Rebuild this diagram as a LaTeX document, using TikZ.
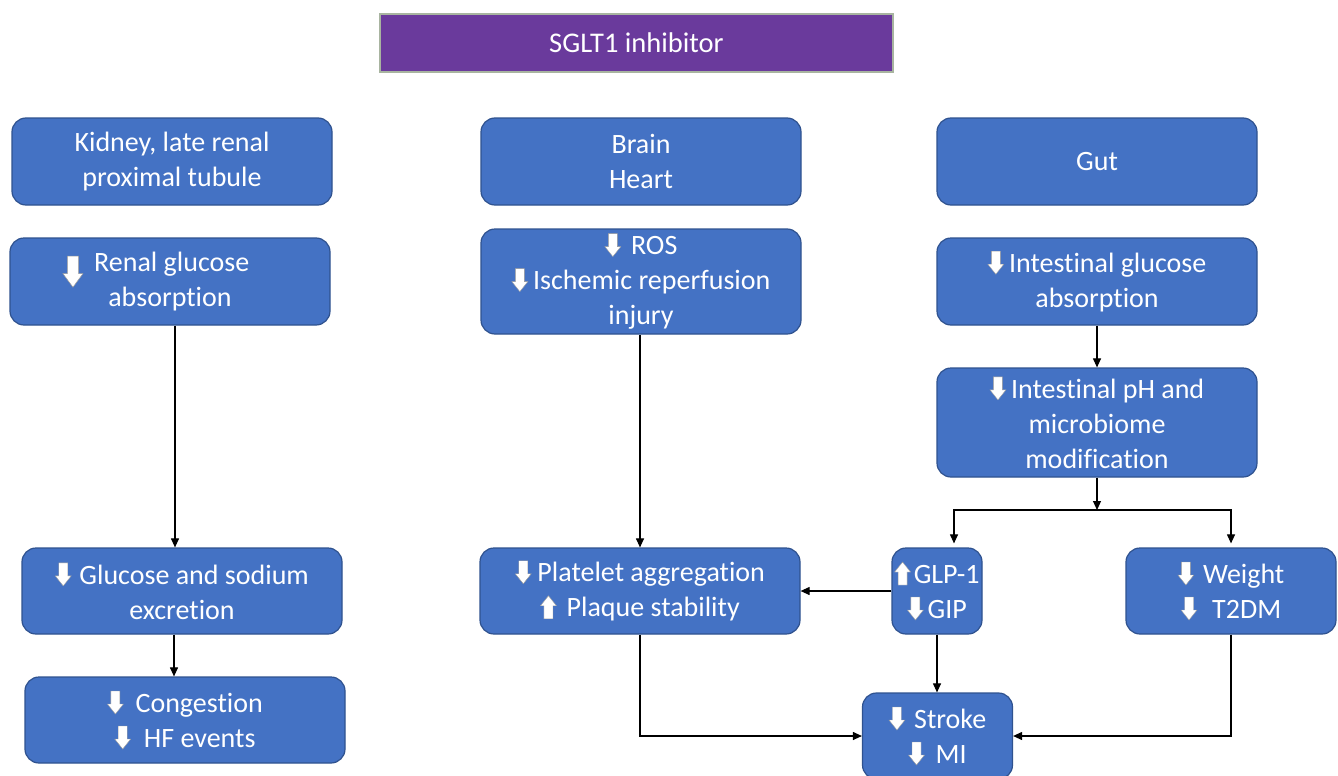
\documentclass[tikz,border=0pt]{standalone}
\usepackage{fontspec}
\setmainfont{Carlito}[Ligatures=NoCommon]
\usetikzlibrary{arrows.meta}
\definecolor{boxblue}{HTML}{4472C4}
\definecolor{boxedge}{HTML}{2F528F}
\definecolor{titlepurple}{HTML}{6A3A9C}
\definecolor{titleedge}{HTML}{A8B4A0}
\definecolor{glyphedge}{HTML}{9A9A9A}
\newsavebox\dnbox
\newsavebox\upbox
\newcommand\dnarr[1][5pt]{\raisebox{-2pt}{\usebox\dnbox}\hspace{#1}}
\newcommand\uparr[1][5pt]{\raisebox{-2pt}{\usebox\upbox}\hspace{#1}}
\newcommand\bigdnarr[1][5pt]{\smash{\raisebox{-16pt}{\scalebox{1.25}[1.35]{\usebox\dnbox}}}\hspace{#1}}
\newcommand\glyphpt[2]{\pgfpathlineto{\pgfpoint{#1pt}{#2pt}}}
\begin{document}
\sbox\dnbox{\pgfpicture
  \pgfsetlinewidth{0.4pt}\pgfsetfillcolor{white}\pgfsetstrokecolor{glyphedge}%
  \pgfpathmoveto{\pgfpoint{-4.5pt}{23pt}}\glyphpt{4.5}{23}\glyphpt{4.5}{10}\glyphpt{8}{10}%
  \glyphpt{0}{0}\glyphpt{-8}{10}\glyphpt{-4.5}{10}\pgfpathclose
  \pgfusepath{fill,stroke}\endpgfpicture}
\sbox\upbox{\pgfpicture
  \pgfsetlinewidth{0.4pt}\pgfsetfillcolor{white}\pgfsetstrokecolor{glyphedge}%
  \pgfpathmoveto{\pgfpoint{-4.5pt}{0pt}}\glyphpt{4.5}{0}\glyphpt{4.5}{13}\glyphpt{8}{13}%
  \glyphpt{0}{23}\glyphpt{-8}{13}\glyphpt{-4.5}{13}\pgfpathclose
  \pgfusepath{fill,stroke}\endpgfpicture}
\begin{tikzpicture}[x=1pt,y=-1pt,
  blk/.style={draw=boxedge, line width=1.2pt, fill=boxblue, rounded corners=14pt,
    text=white, align=center, font=\fontsize{28}{35}\selectfont, inner sep=0pt},
  ttl/.style={draw=titleedge, line width=1.2pt, fill=titlepurple, text=white,
    font=\fontsize{28.5}{35}\selectfont, inner sep=0pt},
  conn/.style={line width=1.1pt, -{Triangle[length=9pt,width=8pt]}}]
\useasboundingbox[fill=white] (0,0) rectangle (1338,776);

\node[ttl, minimum width=513pt, minimum height=58pt] (title) at (636.5,43) {SGLT1 inhibitor};

\node[blk, minimum width=320pt, minimum height=87pt] (kid) at (172,161.5) {Kidney, late renal\\proximal tubule};
\node[blk, minimum width=320pt, minimum height=87pt] (renal) at (170,281.5) {\bigdnarr[11pt]Renal glucose\hspace*{28pt}\\absorption};
\node[blk, minimum width=320pt, minimum height=86pt] (gs) at (182,591) {\dnarr[8pt]Glucose and sodium\\excretion};
\node[blk, minimum width=320pt, minimum height=86pt] (cong) at (185,720) {\dnarr[12pt]Congestion\\\dnarr[13pt]HF events};

\node[blk, minimum width=320pt, minimum height=87pt] (brain) at (641,161.5) {Brain\\Heart};
\node[blk, minimum width=320pt, minimum height=105pt] (ros) at (641,281.5) {\dnarr[10pt]ROS\\\dnarr[5pt]Ischemic reperfusion\\injury};
\node[blk, minimum width=320pt, minimum height=86pt] (plat) at (640,591) {\dnarr[6pt]Platelet aggregation\\\uparr[10pt]Plaque stability};

\node[blk, minimum width=320pt, minimum height=87pt] (gut) at (1097,161.5) {Gut};
\node[blk, minimum width=320pt, minimum height=87pt] (ig) at (1097,281.5) {\dnarr[5pt]Intestinal glucose\\absorption};
\node[blk, minimum width=320pt, minimum height=109pt] (ph) at (1097,422.5) {\dnarr[5pt]Intestinal pH and\\microbiome\\modification};
\node[blk, minimum width=90pt, minimum height=86pt] (glp) at (937,591) {\uparr[3pt]GLP-1\\\dnarr[4pt]GIP};
\node[blk, minimum width=210pt, minimum height=86pt] (wt) at (1231,591) {\dnarr[9pt]Weight\\\dnarr[15pt]T2DM};
\node[blk, minimum width=150pt, minimum height=86pt] (stroke) at (937.5,736) {\dnarr[9pt]Stroke\\\dnarr[11pt]MI};

\coordinate (j) at (1097,510);

\draw[conn] ([xshift=5pt]renal.south) -- ([xshift=-7pt]gs.north);
\draw[conn] ([xshift=-8pt]gs.south) -- ([xshift=-11pt]cong.north);
\draw[conn] ([xshift=-1pt]ros.south) -- (plat.north);
\draw[conn] (ig.south) -- (ph.north);
\draw[conn] (ph.south) -- (j);
\draw[conn, shorten >=4pt] (j) -| ([xshift=17pt]glp.north);
\draw[conn, shorten >=4pt] (j) -| (wt.north);
\draw[conn] (glp.west) -- (plat.east);
\draw[conn] (glp.south) -- (glp.south |- stroke.north);
\draw[conn] (plat.south) |- (stroke.west);
\draw[conn] (wt.south) |- (stroke.east);
\end{tikzpicture}
\end{document}
